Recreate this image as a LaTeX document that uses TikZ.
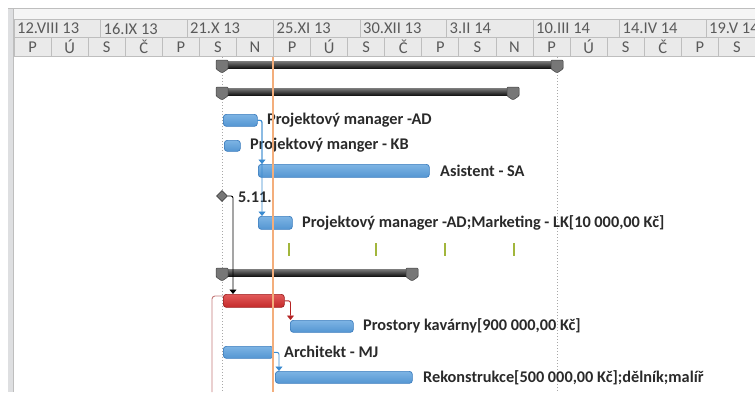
\documentclass[tikz,border=0pt]{standalone}
\usepackage{fontspec}
\setmainfont{Carlito}
\usetikzlibrary{arrows.meta,shapes.geometric}

\definecolor{hdrfill}{HTML}{EAEAEA}
\definecolor{hdrtop}{HTML}{F5F5F5}
\definecolor{hdrline}{HTML}{BEBEBE}
\definecolor{hdrtext}{HTML}{5A5A5A}
\definecolor{splitfill}{HTML}{DEDFE1}
\definecolor{labeltext}{HTML}{2A2A2A}
\definecolor{barblueA}{HTML}{7DB4E4}
\definecolor{barblueB}{HTML}{B4D7F4}
\definecolor{barblueC}{HTML}{5496D2}
\definecolor{barblueedge}{HTML}{3C7DBE}
\definecolor{barredA}{HTML}{E25A5A}
\definecolor{barredB}{HTML}{F08484}
\definecolor{barredC}{HTML}{C42A2A}
\definecolor{barrededge}{HTML}{9E2020}
\definecolor{sumA}{HTML}{7A7A7A}
\definecolor{sumB}{HTML}{2A2A2A}
\definecolor{sumC}{HTML}{141414}
\definecolor{capfill}{HTML}{777777}
\definecolor{capedge}{HTML}{444444}
\definecolor{linkblue}{HTML}{3A8BD0}
\definecolor{linkred}{HTML}{B42222}
\definecolor{leftred}{HTML}{C47A7A}
\definecolor{tickgreen}{HTML}{A2B63C}
\definecolor{todayline}{HTML}{F3AE7C}
\definecolor{gridgray}{HTML}{A8A8A8}

\tikzset{
  hdrcell/.style={draw=hdrline, fill=hdrfill, line width=0.8pt},
  hdrtxt/.style={text=hdrtext, font=\fontsize{16.5}{17}\selectfont, inner sep=0pt},
  tasklabel/.style={anchor=west, inner sep=0pt, text=labeltext,
    font=\fontsize{16.3}{17}\selectfont\bfseries},
  taskbar/.style={anchor=north west, inner sep=0pt, rounded corners=3pt,
    top color=barblueA, middle color=barblueB, bottom color=barblueC,
    draw=barblueedge, line width=0.7pt},
  critbar/.style={anchor=north west, inner sep=0pt, rounded corners=3pt,
    top color=barredA, middle color=barredB, bottom color=barredC,
    draw=barrededge, line width=0.7pt},
  sumbar/.style={anchor=north west, inner sep=0pt, minimum height=7pt,
    top color=sumA, middle color=sumB, bottom color=sumC, draw=none},
  sumcap/.style={fill=capfill, draw=capedge, line width=0.5pt, rounded corners=1pt},
  link/.style={line width=0.9pt, rounded corners=2pt,
    -{Triangle[width=7pt,length=4.5pt]}},
  grid/.style={gridgray, line width=0.8pt, dash pattern=on 1pt off 2pt},
  tick/.style={tickgreen, line width=2.6pt},
}

% summary bar with two down-pointing end caps: name, left, right, top
\newcommand\summarybar[4]{%
  \node[sumbar, minimum width={#3-#2+12}] (#1) at ({#2-6},#4) {};
  \foreach \c in {#2,#3}{
    \draw[sumcap] ({\c-6},{#4-1}) -- ({\c+6},{#4-1}) -- ({\c+6},{#4+8})
      -- (\c,{#4+12}) -- ({\c-6},{#4+8}) -- cycle;
  }%
}

\begin{document}
\begin{tikzpicture}[x=1pt,y=-1pt]
\useasboundingbox (0,0) rectangle (755,392);
\fill[white] (0,0) rectangle (755,392);

% splitter strip on the left
\fill[splitfill] (8,8) rectangle (14,392);
\draw[hdrline, line width=1pt] (13.3,8) -- (13.3,392);

% timescale header
\fill[hdrtop] (14,8) rectangle (755,19);
\draw[hdrline, line width=0.8pt] (8,8) -- (755,8);
\foreach \lbl [count=\i from 0] in {12.VIII 13,16.IX 13,21.X 13,25.XI 13,30.XII 13,3.II 14,10.III 14,14.IV 14,19.V 14}{
  \draw[hdrcell] ({14+86.5*\i},19) rectangle ({14+86.5*(\i+1)},37);
  \node[hdrtxt, anchor=west] (top\i) at ({17+86.5*\i},28.5) {\lbl};
}
\foreach \d [count=\i from 0] in {P,Ú,S,Č,P,S,N,P,Ú,S,Č,P,S,N,P,Ú,S,Č,P,S}{
  \draw[hdrcell] ({14+37.07*\i},37) rectangle ({14+37.07*(\i+1)},56);
  \node[hdrtxt] (day\i) at ({14+37.07*(\i+0.5)},47) {\d};
}

% dotted project boundaries
\draw[grid] (222,57) -- (222,392);
\draw[grid] (557,57) -- (557,392);

% summary tasks
\summarybar{sumA}{222}{557}{61}
\summarybar{sumB}{222}{513}{88}
\summarybar{sumC}{222}{412}{269}

% tasks
\node[taskbar, minimum width=34pt, minimum height=12pt] (ad) at (223,114) {};
\node[tasklabel] (adl) at (267,120) {Projektový manager -AD};
\node[taskbar, minimum width=16pt, minimum height=11pt] (kb) at (224,140) {};
\node[tasklabel] (kbl) at (250,145.5) {Projektový manger - KB};
\node[taskbar, minimum width=171pt, minimum height=13pt] (asis) at (258,164) {};
\node[tasklabel] (asisl) at (440,171) {Asistent - SA};

\node[diamond, fill=capfill, draw=capedge, line width=0.6pt, inner sep=0pt,
  minimum width=11pt, minimum height=11pt] (ms) at (222,196) {};
\node[tasklabel] (msl) at (238,197) {5.11.};

\node[taskbar, minimum width=34pt, minimum height=13pt] (mkt) at (258,216) {};
\node[tasklabel] (mktl) at (302,222.5) {Projektový manager -AD;Marketing - LK[10 000,00 Kč]};

\foreach \x [count=\i] in {289,376,445,514}
  \draw[tick] (\x,243) -- (\x,256);

\node[critbar, minimum width=61pt, minimum height=13pt] (red) at (223,294) {};
\node[taskbar, minimum width=63pt, minimum height=12pt] (prost) at (290,320) {};
\node[tasklabel] (prostl) at (363,326) {Prostory kavárny[900 000,00 Kč]};
\node[taskbar, minimum width=50pt, minimum height=12pt] (arch) at (223,346) {};
\node[tasklabel] (archl) at (284,352) {Architekt - MJ};
\node[taskbar, minimum width=137pt, minimum height=12pt] (rek) at (275,371) {};
\node[tasklabel] (rekl) at (423,377.5) {Rekonstrukce[500 000,00 Kč];dělník;malíř};

% dependency links
\draw[link, linkblue] (ad.east) -| ([xshift=4pt]asis.north west);
\draw[link, linkblue] (ad.east) -| ([xshift=4pt]mkt.north west);
\draw[link, black] (ms.east) -| ([xshift=10pt]red.north west);
\draw[link, linkred] (red.east) -| ([xshift=0.5pt]prost.north west);
\draw[link, linkblue] (arch.east) -| ([xshift=4pt]rek.north west);
\coordinate (redend) at (212,392);
\draw[leftred, line width=0.9pt, rounded corners=3pt] ([yshift=-2pt]red.north west) -| (redend);

% status date
\draw[todayline, line width=1.3pt] (273,57) -- (273,392);
\end{tikzpicture}
\end{document}
